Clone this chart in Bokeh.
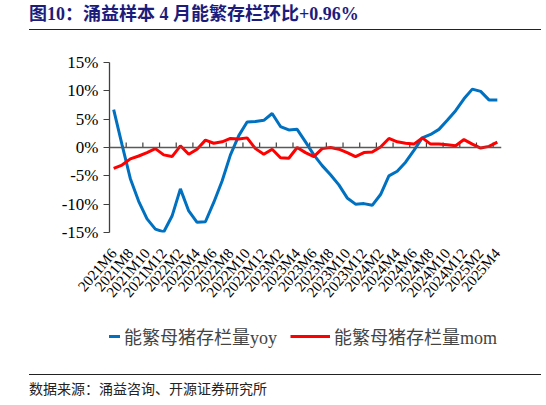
import numpy as np
from bokeh.plotting import figure
from bokeh.models import (Range1d, FixedTicker, PrintfTickFormatter, Span, Legend,
                          LegendItem, Div)
from bokeh.layouts import column
from bokeh.embed import file_html
from bokeh.resources import INLINE

# months on the x axis (2021M6 .. 2025M4)
months = ["2021M6", "2021M7", "2021M8", "2021M9", "2021M10", "2021M11", "2021M12",
          "2022M1", "2022M2", "2022M3", "2022M4", "2022M5", "2022M6", "2022M7", "2022M8",
          "2022M9", "2022M10", "2022M11", "2022M12",
          "2023M1", "2023M2", "2023M3", "2023M4", "2023M5", "2023M6", "2023M7", "2023M8",
          "2023M9", "2023M10", "2023M11", "2023M12",
          "2024M1", "2024M2", "2024M3", "2024M4", "2024M5", "2024M6", "2024M7", "2024M8",
          "2024M9", "2024M10", "2024M11", "2024M12",
          "2025M1", "2025M2", "2025M3", "2025M4"]

# 能繁母猪存栏量 同比 / 环比 (%)
yoy = [6.7, 0.5, -5.5, -9.5, -12.6, -14.4, -14.9, -12.1, -7.3, -11.2, -13.2, -13.1,
       -9.7, -5.9, -1.3, 2.1, 4.5, 4.6, 4.8, 6.0, 3.7, 3.1, 3.2, 1.0, -1.3, -3.2,
       -4.8, -6.6, -8.9, -10.0, -9.9, -10.2, -8.3, -5.0, -4.2, -2.6, -0.5, 1.7, 2.3,
       3.2, 4.8, 6.5, 8.6, 10.3, 9.9, 8.4, 8.4]
mom = [-3.7, -3.1, -2.0, -1.5, -0.9, -0.2, -1.3, -1.6, 0.3, -1.2, -0.3, 1.3, 0.75,
       1.0, 1.6, 1.5, 1.7, -0.2, -1.2, -0.3, -1.8, -1.9, 0.0, -0.9, -1.6, -0.2, 0.0,
       -0.3, -0.9, -1.6, -0.9, -0.8, 0.1, 1.6, 1.0, 0.75, 0.6, 1.7, 0.6, 0.6, 0.5, 0.3,
       1.4, 0.6, -0.1, 0.2, 0.96]

y_ticks = [-15, -10, -5, 0, 5, 10, 15]
series_names = ["能繁母猪存栏量yoy", "能繁母猪存栏量mom"]
series_colors = ["#0070C0", "#FF0000"]

SERIF = "Liberation Serif, Noto Sans CJK SC"

x = np.arange(len(months))

# main chart
p = figure(width=546, height=278,
           x_range=Range1d(-0.5, len(months) - 0.5),
           y_range=Range1d(-15, 15),
           output_backend="svg", toolbar_location=None,
           min_border_left=109, min_border_right=45,
           min_border_top=32, min_border_bottom=74)
p.outline_line_color = None
p.xgrid.grid_line_color = None
p.ygrid.grid_line_color = None

# y axis
p.yaxis.ticker = FixedTicker(ticks=y_ticks)
p.yaxis.formatter = PrintfTickFormatter(format="%d%%")
p.yaxis.major_label_text_font = SERIF
p.yaxis.major_label_text_font_size = "17px"
p.yaxis.major_label_text_color = "#000000"
p.yaxis.axis_line_color = "#404040"
p.yaxis.axis_line_width = 1.3
p.yaxis.major_tick_line_color = "#404040"
p.yaxis.major_tick_in = 0
p.yaxis.major_tick_out = 6
p.yaxis.minor_tick_line_color = None

# x axis: labels only, the zero line carries the ticks
p.xaxis.ticker = FixedTicker(ticks=list(range(0, len(months), 2)))
p.xaxis.major_label_overrides = {int(i): months[i] for i in range(0, len(months), 2)}
p.xaxis.major_label_orientation = 0.87
p.xaxis.major_label_text_font = SERIF
p.xaxis.major_label_text_font_size = "15px"
p.xaxis.major_label_text_color = "#000000"
p.xaxis.axis_line_color = None
p.xaxis.major_tick_line_color = None
p.xaxis.minor_tick_line_color = None
p.xaxis.major_label_standoff = 12

zero = Span(location=0, dimension="width", line_color="#595959", line_width=1.5)
p.add_layout(zero)
bounds = [i - 0.5 for i in range(0, len(months), 2)]
p.segment(x0=bounds, y0=[0] * len(bounds), x1=bounds, y1=[0.9] * len(bounds),
          line_color="#404040", line_width=1.2)

p.line(x, yoy, line_color=series_colors[0], line_width=3)
p.line(x, mom, line_color=series_colors[1], line_width=3)

# legend strip under the chart (its lines sit outside the visible range)
lg = figure(width=546, height=60, x_range=Range1d(1000, 1001), y_range=Range1d(0, 1),
            x_axis_location=None, y_axis_location=None,
            output_backend="svg", toolbar_location=None,
            min_border_left=0, min_border_right=0, min_border_top=0, min_border_bottom=0)
lg.grid.visible = False
lg.outline_line_color = None
items = []
for name, color, vals in zip(series_names, series_colors, [yoy, mom]):
    r = lg.line(x, vals, line_color=color, line_width=3)
    items.append(LegendItem(label=name, renderers=[r]))
legend = Legend(items=items, orientation="horizontal", location=(-29, 19),
                label_text_font=SERIF, label_text_font_size="18px",
                glyph_width=40, label_standoff=4, spacing=13,
                border_line_color=None, background_fill_alpha=0,
                margin=0, padding=0)
lg.add_layout(legend, "center")

title = Div(text="图10：涌益样本 4 月能繁存栏环比+0.96%", width=512, height=30,
            margin=(0, 0, 0, 29),
            styles={"font-family": SERIF, "font-size": "18px", "font-weight": "bold",
                    "color": "#1c1c7c", "line-height": "28px",
                    "border-bottom": "1.5px solid #222222"})
source = Div(text="数据来源：涌益咨询、开源证券研究所", width=512, height=28,
             margin=(6, 0, 0, 29),
             styles={"font-family": SERIF, "font-size": "14px", "color": "#222222",
                     "line-height": "16px",
                     "border-top": "1.5px solid #222222", "padding-top": "7px"})

layout = column(title, p, lg, source)
open("out.html", "w").write(file_html(layout, INLINE))
